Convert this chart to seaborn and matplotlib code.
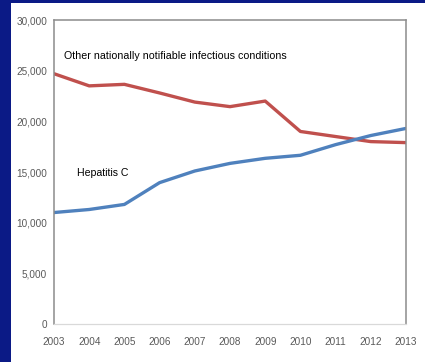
import matplotlib
matplotlib.use("Agg")
import matplotlib.pyplot as plt
from matplotlib.ticker import FuncFormatter
import seaborn as sns
import pandas as pd

years = [2003, 2004, 2005, 2006, 2007, 2008, 2009, 2010, 2011, 2012, 2013]
other_conditions = [24700, 23500, 23650, 22800, 21900, 21450, 22000, 19000, 18500, 18000, 17900]
hepatitis_c = [11000, 11300, 11800, 13950, 15100, 15850, 16350, 16650, 17700, 18600, 19300]
series_names = ["Other nationally notifiable infectious conditions", "Hepatitis C"]
y_ticks = [0, 5000, 10000, 15000, 20000, 25000, 30000]

df = pd.DataFrame({
    "year": years * 2,
    "count": other_conditions + hepatitis_c,
    "series": [series_names[0]] * len(years) + [series_names[1]] * len(years),
})

sns.set_theme(style="white")
plt.rcParams["font.family"] = ["Liberation Sans Narrow", "Liberation Sans", "DejaVu Sans"]

fig = plt.figure(figsize=(4.25, 3.62), dpi=100)
fig.patch.set_facecolor("#0b1a86")
# white panel inside the navy frame
panel = fig.add_axes([11 / 425, 0.0, 1 - 11 / 425, 1 - 3 / 362])
panel.set_facecolor("white")
panel.set_xticks([])
panel.set_yticks([])
for s in panel.spines.values():
    s.set_visible(False)

ax = fig.add_axes([54 / 425, 1 - 324 / 362, (406 - 54) / 425, (324 - 20) / 362])
sns.lineplot(
    data=df, x="year", y="count", hue="series",
    palette={series_names[0]: "#c0504d", series_names[1]: "#4f81bd"},
    linewidth=2.4, legend=False, ax=ax,
)

ax.set_xlim(years[0], years[-1])
ax.set_ylim(0, 30000)
ax.set_xticks(years)
ax.set_yticks(y_ticks)
ax.yaxis.set_major_formatter(FuncFormatter(lambda v, p: f"{int(v):,}"))
ax.set_xlabel("")
ax.set_ylabel("")
ax.tick_params(axis="both", labelsize=7.2, colors="#595959")
ax.tick_params(axis="x", direction="inout", length=5, width=0.8, color="#d9d9d9", pad=7)
ax.tick_params(axis="y", length=0, pad=5)

for side in ["left", "top", "right"]:
    ax.spines[side].set_color("#8c8c8c")
    ax.spines[side].set_linewidth(1.1)
ax.spines["bottom"].set_color("#d9d9d9")
ax.spines["bottom"].set_linewidth(0.9)

ax.text(2003.28, 26450, series_names[0], fontsize=7.7, color="black", va="center")
ax.text(2003.65, 14900, series_names[1], fontsize=7.6, color="black", va="center")

fig.savefig("out.png", dpi=100, facecolor=fig.get_facecolor())
